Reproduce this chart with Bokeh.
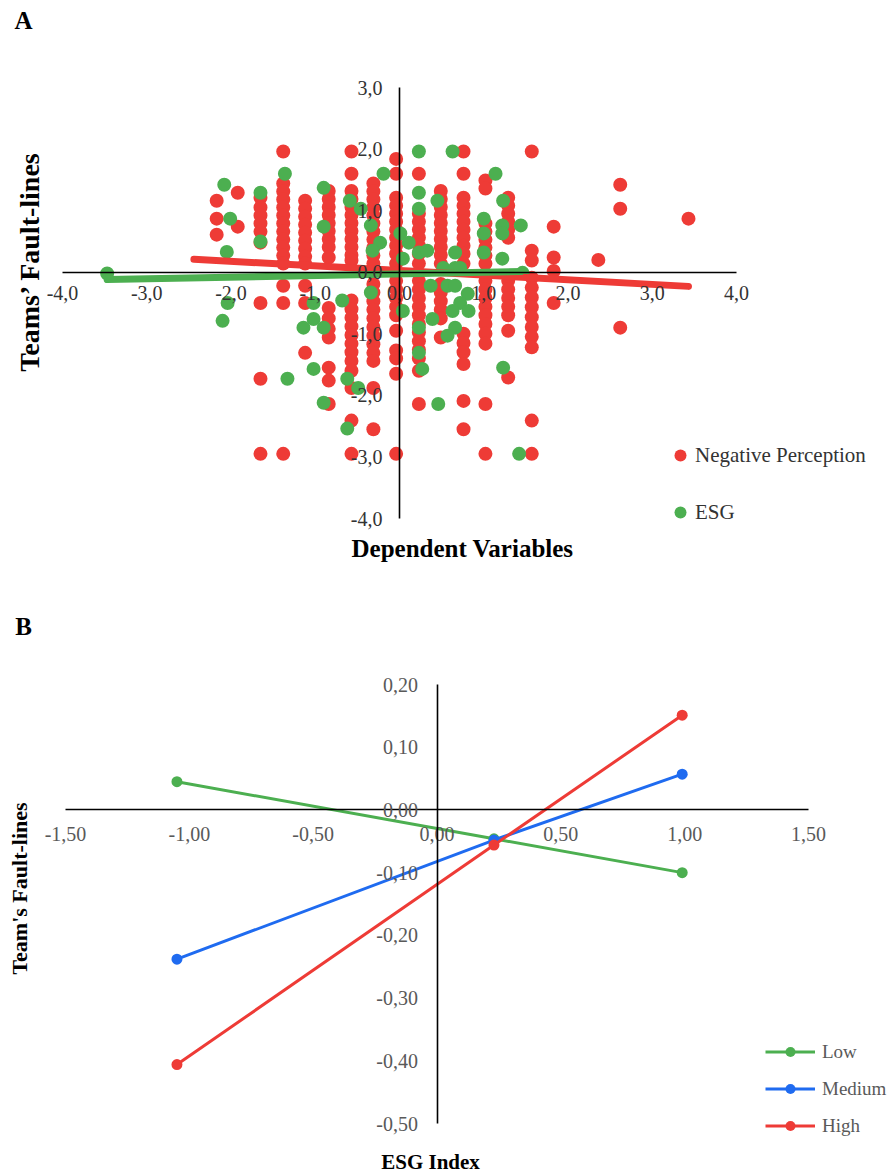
import math
from bokeh.plotting import figure
from bokeh.models import Range1d, FixedTicker, CustomJSTickFormatter, Legend, LegendItem
from bokeh.layouts import column
from bokeh.embed import file_html
from bokeh.resources import INLINE
from bokeh.core.properties import value

# ---------------- data: panel A (scatter) ----------------
neg_cols = [-2.17, -1.92, -1.65, -1.38, -1.12, -0.84, -0.57, -0.31, -0.04, 0.23,
            0.49, 0.76, 1.02, 1.29, 1.57, 1.83, 2.36, 2.62, 3.43]
neg_vals = [
    [1.16, 0.87, 0.61],
    [1.29, 0.74],
    [1.21, 1.05, 0.92, 0.79, 0.66, 0.48, -0.50, -1.73, -2.95],
    [1.96, 1.44, 1.31, 1.18, 1.05, 0.92, 0.79, 0.66, 0.53, 0.40, 0.27, 0.14, -0.22, -0.50, -2.95],
    [1.16, 1.03, 0.90, 0.77, 0.64, 0.51, 0.38, 0.25, 0.14, -0.22, -0.50, -1.31],
    [1.32, 1.19, 1.06, 0.93, 0.80, 0.67, 0.54, 0.41, 0.24, -0.58, -0.75, -0.92, -1.06, -1.55, -1.76, -2.14],
    [1.96, 1.60, 1.32, 1.19, 1.06, 0.93, 0.80, 0.67, 0.54, 0.41, 0.28, 0.19, -0.46, -0.60, -0.74, -0.88,
     -1.02, -1.16, -1.30, -1.44, -1.60, -1.88, -2.41, -2.95],
    [1.44, 1.31, 1.18, 1.05, 0.92, 0.79, 0.66, 0.53, 0.40, 0.27, 0.14, -0.19, -0.33, -0.47, -0.61, -0.75,
     -0.89, -1.03, -1.17, -1.31, -1.44, -1.88, -2.55],
    [1.84, 1.60, 1.21, 1.08, 0.95, 0.82, 0.69, 0.56, 0.43, 0.30, 0.14, -0.14, -0.28, -0.42, -0.56, -0.70,
     -0.95, -1.27, -1.40, -1.65, -2.95],
    [1.60, 0.95, 0.82, 0.69, 0.56, 0.43, 0.30, 0.14, -0.14, -0.28, -0.42, -0.56, -0.70, -0.84, -0.98,
     -1.12, -1.26, -1.40, -1.60, -2.14],
    [1.32, 1.19, 1.06, 0.93, 0.80, 0.67, 0.54, 0.41, 0.28, 0.14, -0.19, -0.33, -0.47, -0.61, -0.75, -1.06],
    [1.96, 1.60, 1.21, 1.08, 0.95, 0.82, 0.69, 0.56, 0.43, 0.30, 0.14, -1.00, -1.15, -1.30, -1.49, -2.09, -2.55],
    [1.49, 1.36, 0.79, 0.66, 0.53, 0.40, 0.27, 0.14, -0.14, -0.28, -0.42, -0.56, -0.70, -0.84, -1.00,
     -1.16, -2.14, -2.95],
    [1.21, 1.08, 0.95, 0.82, 0.69, 0.56, -0.14, -0.28, -0.42, -0.56, -0.70, -0.95, -1.71],
    [1.96, 0.35, 0.19, -0.09, -0.25, -0.41, -0.57, -0.73, -0.89, -1.05, -1.22, -2.41, -2.95],
    [0.74, 0.24, 0.02, -0.50],
    [0.20],
    [1.42, 1.03, -0.90],
    [0.87],
]
esg_x = [-3.47, -2.08, -2.01, -2.05, -2.04, -2.10, -1.65, -1.65, -1.36, -0.90, -0.90, -0.59,
         -1.02, -1.14, -1.02, -0.90, -1.02, -1.33, -0.62, -0.90, -0.62, -0.49, -0.46, -0.34,
         -0.23, -0.19, -0.32, 0.01, 0.11, 0.04, 0.23, 0.23, 0.23, 0.23, 0.33, 0.45, 0.63, 0.66,
         0.52, 0.66, 0.72, 1.14, 1.23, 1.00, 1.00, 1.22, 1.22, 1.44, 1.00, 1.22, 1.46, -0.34,
         -0.68, 0.04, 0.37, 0.57, 0.66, 0.81, 0.72, 0.82, 0.63, 0.39, 0.66, 0.57, 0.23, 0.23,
         0.27, 1.23, 0.46, 1.42]
esg_y = [-0.02, 1.42, 0.87, 0.33, -0.50, -0.79, 1.29, 0.50, 1.60, 1.37, 0.74, 1.16,
         -0.50, -0.90, -0.76, -0.90, -1.57, -1.73, -1.73, -2.12, -2.54, -1.88, 1.03, 0.76,
         0.48, 1.60, 0.35, 0.63, 0.48, 0.22, 1.96, 1.29, 1.03, 0.32, 0.35, 1.16, 1.96, 0.32,
         0.07, 0.07, 0.07, 1.60, 1.16, 0.87, 0.63, 0.76, 0.63, 0.76, 0.32, 0.22, -0.01, -0.33,
         -0.46, -0.63, -0.22, -0.22, -0.22, -0.35, -0.50, -0.63, -0.63, -0.76, -0.90, -1.03, -0.90, -1.31,
         -1.57, -1.55, -2.14, -2.95]
neg_trend_x = [-2.44, 3.43]
neg_trend_y = [0.21, -0.23]
esg_trend_x = [-3.47, 1.44]
esg_trend_y = [-0.12, 0.01]
a_xticks = [-4, -3, -2, -1, 0, 1, 2, 3, 4]
a_yticks = [-4, -3, -2, -1, 0, 1, 2, 3]

# ---------------- data: panel B (lines) ----------------
esg_index = [-1.05, 0.23, 0.99]
low_vals = [0.045, -0.046, -0.100]
medium_vals = [-0.238, -0.048, 0.057]
high_vals = [-0.406, -0.056, 0.151]
b_xticks = [-1.5, -1.0, -0.5, 0.0, 0.5, 1.0, 1.5]
b_yticks = [-0.5, -0.4, -0.3, -0.2, -0.1, 0.0, 0.1, 0.2]

SERIF = "Liberation Serif"
RED = "#EE3B36"
GREEN = "#4CAF50"
BLUE = "#1F6BF0"
W = 888
HA = 580
HB = 594
TOP_A = 0
TOP_B = TOP_A + HA


def lin(v0, p0, v1, p1):
    k = (v1 - v0) / (p1 - p0)
    return lambda px: v0 + (px - p0) * k


def base_fig(top, h, fx, fy):
    p = figure(width=W, height=h,
               x_range=Range1d(fx(0), fx(W)),
               y_range=Range1d(fy(top + h), fy(top)),
               output_backend="svg", toolbar_location=None, title=None,
               min_border=0, min_border_left=0, min_border_right=0,
               min_border_top=0, min_border_bottom=0)
    p.outline_line_color = None
    p.grid.visible = False
    p.background_fill_color = "white"
    return p


def style_axes(p, xticks, yticks, xb, yb, decimals, color, xstand, ystand):
    fmt = CustomJSTickFormatter(code="return tick.toFixed(%d).replace('.', ',');" % decimals)
    for ax, ticks, b, st in ((p.xaxis[0], xticks, xb, xstand), (p.yaxis[0], yticks, yb, ystand)):
        ax.fixed_location = 0
        ax.ticker = FixedTicker(ticks=ticks)
        ax.formatter = fmt
        ax.bounds = b
        ax.major_tick_in = 0
        ax.major_tick_out = 0
        ax.minor_tick_in = 0
        ax.minor_tick_out = 0
        ax.axis_line_color = "black"
        ax.axis_line_width = 1.6
        ax.major_label_text_font = SERIF
        ax.major_label_text_font_size = "20px"
        ax.major_label_text_color = color
        ax.major_label_standoff = st


def add_text(p, x, y, txt, size, bold=True, angle=0.0):
    p.text(x=[x], y=[y], text=[txt], angle=angle, text_font=value(SERIF),
           text_font_style="bold" if bold else "normal", text_font_size=size,
           text_align="center", text_baseline="middle", text_color="black")


# ---------------- Panel A ----------------
fxA = lin(-4.0, 62, 4.0, 736)
fyA = lin(3.0, 87, -4.0, 518)
pA = base_fig(TOP_A, HA, fxA, fyA)
style_axes(pA, a_xticks, a_yticks, (-4, 4), (-4, 3), 1, "#333333", 14, 17)

neg_x = [c for c, vals in zip(neg_cols, neg_vals) for _ in vals]
neg_y = [v for vals in neg_vals for v in vals]
r_neg = pA.scatter(neg_x, neg_y, size=14, color=RED, line_color=None)
r_esg = pA.scatter(esg_x, esg_y, size=14, color=GREEN, line_color=None)
pA.line(neg_trend_x, neg_trend_y, line_width=7, color=RED, line_cap="round")
pA.line(esg_trend_x, esg_trend_y, line_width=7, color=GREEN, line_cap="round")

add_text(pA, fxA(23), fyA(20), "A", "25px")
add_text(pA, fxA(29), fyA(261), "Teams\u2019 Fault-lines", "28px", angle=math.pi / 2)
add_text(pA, fxA(462), fyA(548), "Dependent Variables", "25px")

legA = Legend(items=[LegendItem(label="Negative Perception", renderers=[r_neg]),
                     LegendItem(label="ESG", renderers=[r_esg])],
              location=(665, 53), orientation="vertical",
              glyph_width=30, glyph_height=30, spacing=27, padding=0, margin=0,
              label_standoff=0, label_height=20,
              label_text_font=SERIF, label_text_font_size="21px", label_text_color="#333333",
              background_fill_alpha=0, border_line_color=None)
pA.add_layout(legA)

# ---------------- Panel B ----------------
fxB = lin(-1.5, 65, 1.5, 808)
fyB = lin(0.2, 684, -0.5, 1123)
pB = base_fig(TOP_B, HB, fxB, fyB)
style_axes(pB, b_xticks, b_yticks, (-1.5, 1.5), (-0.5, 0.2), 2, "#595959", 17, 19)

items = []
for name, vals, col in (("Low", low_vals, GREEN), ("Medium", medium_vals, BLUE), ("High", high_vals, RED)):
    rl = pB.line(esg_index, vals, line_width=3, color=col)
    rs = pB.scatter(esg_index, vals, size=11, color=col, line_color=None)
    items.append(LegendItem(label=name, renderers=[rl, rs]))

add_text(pB, fxB(23), fyB(626), "B", "25px")
add_text(pB, fxB(19), fyB(888), "Team's Fault-lines", "22px", angle=math.pi / 2)
add_text(pB, fxB(430), fyB(1161), "ESG Index", "21px")

legB = Legend(items=items, location=(765, 36), orientation="vertical",
              glyph_width=50, glyph_height=25, spacing=12, padding=0, margin=0,
              label_standoff=7, label_height=20,
              label_text_font=SERIF, label_text_font_size="19px", label_text_color="#595959",
              background_fill_alpha=0, border_line_color=None)
pB.add_layout(legB)

layout = column(pA, pB, spacing=0)
open("out.html", "w").write(file_html(layout, INLINE))
